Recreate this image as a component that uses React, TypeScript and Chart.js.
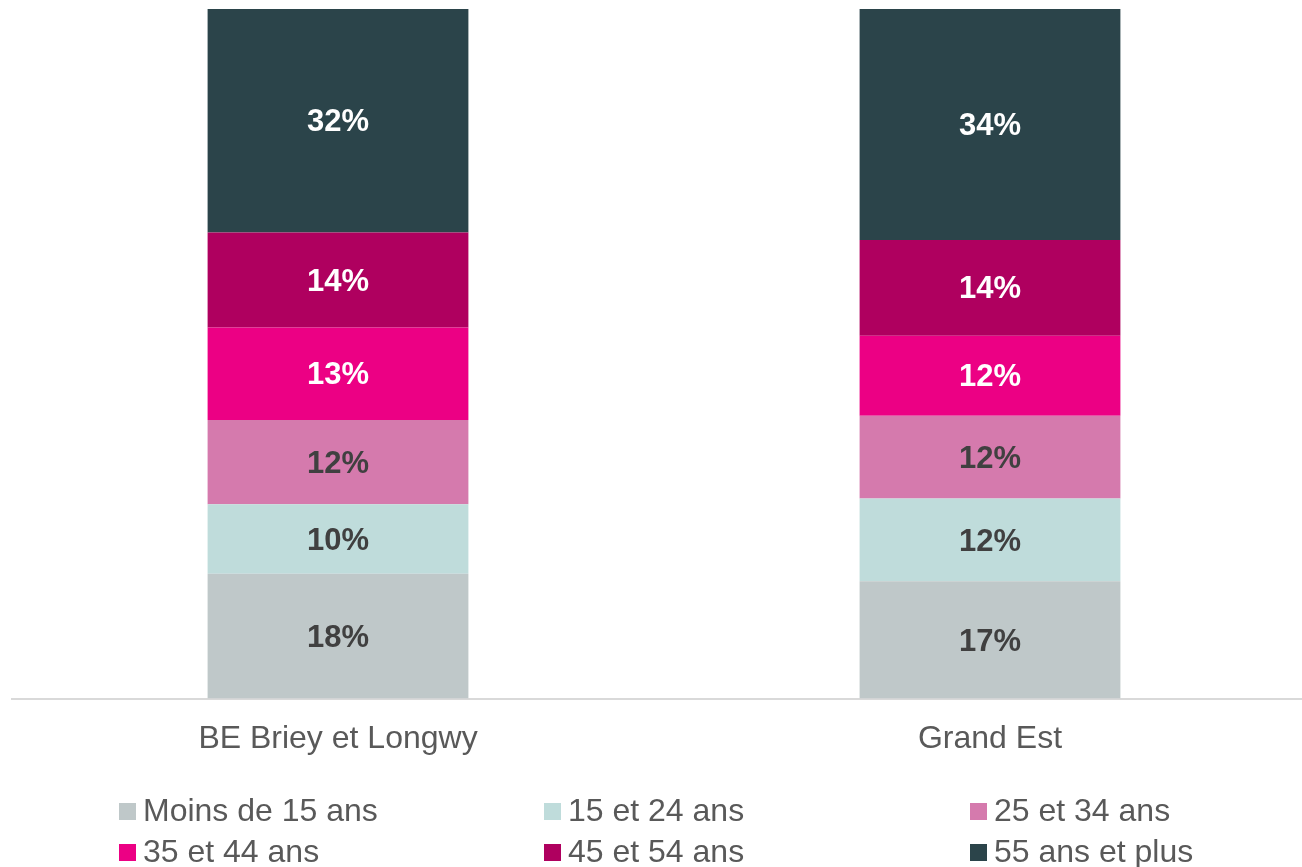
import React, { useEffect, useRef } from "react";
import { Chart, registerables } from "chart.js";

Chart.register(...registerables);

const categories = ["BE Briey et Longwy", "Grand Est"];
const seriesNames = [
  "Moins de 15 ans",
  "15 et 24 ans",
  "25 et 34 ans",
  "35 et 44 ans",
  "45 et 54 ans",
  "55 ans et plus",
];
const moins15 = [18.1, 17.0];
const de15a24 = [10.1, 12.0];
const de25a34 = [12.2, 12.0];
const de35a44 = [13.4, 11.6];
const de45a54 = [13.8, 13.9];
const plus55 = [32.4, 33.5];
const seriesColors = ["#bfc8c9", "#bfdcdb", "#d57aad", "#ec0084", "#af005f", "#2b444a"];
const labelColors = ["#404040", "#404040", "#404040", "#ffffff", "#ffffff", "#ffffff"];

const FONT = '"Liberation Sans", Arial, Helvetica, sans-serif';

const dataLabelPlugin = {
  id: "dataLabels",
  afterDatasetsDraw(chart: any) {
    const ctx = chart.ctx;
    ctx.save();
    ctx.font = `bold 31px ${FONT}`;
    ctx.textAlign = "center";
    ctx.textBaseline = "middle";
    chart.data.datasets.forEach((ds: any, i: number) => {
      const meta = chart.getDatasetMeta(i);
      meta.data.forEach((el: any, j: number) => {
        const v = ds.data[j];
        const props = el.getProps(["x", "y", "base"], true);
        ctx.fillStyle = labelColors[i];
        ctx.fillText(Math.round(v) + "%", props.x, (props.y + props.base) / 2 + 2);
      });
    });
    ctx.restore();
  },
};

const legendPlugin = {
  id: "gridLegend",
  afterDraw(chart: any) {
    const ctx = chart.ctx;
    const colX = [119, 544, 970];
    const rowBase = [821, 862];
    const box = 17;
    ctx.save();
    ctx.font = `32px ${FONT}`;
    ctx.textAlign = "left";
    ctx.textBaseline = "alphabetic";
    chart.data.datasets.forEach((ds: any, i: number) => {
      const col = i % 3;
      const row = Math.floor(i / 3);
      const x = colX[col];
      const base = rowBase[row];
      ctx.fillStyle = ds.backgroundColor;
      ctx.fillRect(x, base - 18, box, box);
      ctx.fillStyle = "#595959";
      ctx.fillText(ds.label, x + box + 7, base);
    });
    ctx.restore();
  },
};

export default function App() {
  const canvasRef = useRef<HTMLCanvasElement>(null);

  useEffect(() => {
    if (!canvasRef.current) return;
    const values = [moins15, de15a24, de25a34, de35a44, de45a54, plus55];
    const chart = new Chart(canvasRef.current, {
      type: "bar",
      data: {
        labels: categories,
        datasets: seriesNames.map((name, i) => ({
          label: name,
          data: values[i],
          backgroundColor: seriesColors[i],
          borderWidth: 0,
          barPercentage: 0.4,
          categoryPercentage: 1,
        })),
      },
      options: {
        animation: false,
        responsive: true,
        maintainAspectRatio: false,
        layout: { padding: { top: 9, left: 12, right: 0, bottom: 88 } },
        plugins: {
          legend: { display: false },
          tooltip: { enabled: false },
        },
        scales: {
          x: {
            stacked: true,
            grid: { display: false, drawTicks: false },
            border: { display: true, color: "#d9d9d9", width: 2 },
            ticks: {
              color: "#595959",
              font: { family: FONT, size: 32 },
              padding: 21,
              maxRotation: 0,
            },
          },
          y: {
            stacked: true,
            display: false,
            min: 0,
            max: 100,
          },
        },
      },
      plugins: [dataLabelPlugin, legendPlugin],
    });
    return () => chart.destroy();
  }, []);

  return (
    <div
      style={{
        position: "fixed",
        top: 0,
        left: 0,
        width: 1302,
        height: 867,
        overflow: "hidden",
        background: "#ffffff",
      }}
    >
      <div style={{ position: "relative", width: 1316, height: 867 }}>
        <canvas ref={canvasRef} />
      </div>
    </div>
  );
}
